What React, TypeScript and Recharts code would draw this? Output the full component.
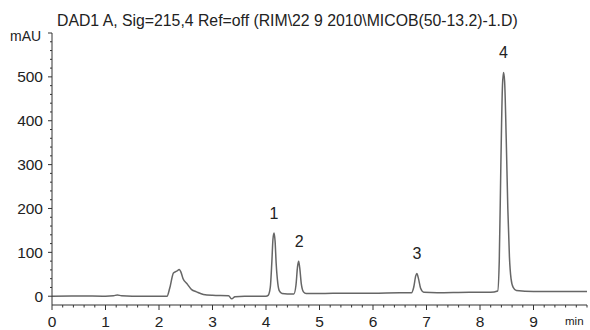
import { LineChart, Line, XAxis, YAxis, ReferenceDot } from 'recharts';

// retention time (min) and detector signal (mAU)
const times = [
  0, 0.5, 1.0, 1.15, 1.22, 1.3, 1.5, 2.0, 2.15,
  2.2, 2.27, 2.33, 2.38, 2.41, 2.45, 2.52, 2.61, 2.7, 2.83, 3.0, 3.3, 3.36, 3.42, 3.6, 4.0,
  4.04, 4.08, 4.11, 4.13, 4.15, 4.17, 4.19, 4.22, 4.25, 4.3, 4.4,
  4.52, 4.56, 4.59, 4.61, 4.63, 4.66, 4.7, 4.75, 5.0, 5.5, 6.0, 6.5,
  6.72, 6.76, 6.8, 6.82, 6.85, 6.89, 6.95, 7.2, 7.8, 8.2,
  8.33, 8.36, 8.39, 8.42, 8.44, 8.46, 8.49, 8.52, 8.55, 8.58, 8.62, 8.68, 9.0, 9.5, 10.0,
];
const signal = [
  0, 0.5, 0, 1, 3, 1, 0, 0, 0,
  18, 53, 57, 61, 55, 40, 29, 15, 10, 4, 2, 1, -6, -1, 0, 0,
  2, 20, 80, 130, 144, 125, 75, 30, 12, 6, 5,
  5, 25, 68, 80, 65, 28, 10, 6, 6, 7, 7, 8,
  8, 20, 47, 52, 40, 18, 9, 8, 9, 9,
  12, 80, 300, 480, 510, 490, 360, 200, 90, 40, 20, 13, 11, 11, 11,
];

const peakTimes = [4.15, 4.62, 6.82, 8.44];
const peakHeights = [144, 80, 52, 510];
const peakNames = ['1', '2', '3', '4'];

const xLabels = [0, 1, 2, 3, 4, 5, 6, 7, 8, 9];
const yLabels = [0, 100, 200, 300, 400, 500];

const xTicks = Array.from({ length: 51 }, (_, i) => Math.round(i * 2) / 10);
const yTicks = Array.from({ length: 31 }, (_, i) => i * 20);

const data = times.map((t, i) => ({ t, v: signal[i] }));

const font = 'Arial, "Liberation Sans", Helvetica, sans-serif';
const ink = '#333';

function XTick(props: any) {
  const { x, y, payload } = props;
  const v = payload.value;
  const major = xLabels.includes(v);
  return (
    <g>
      <line x1={x} x2={x} y1={y} y2={y + (major ? 5 : 2.5)} stroke={ink} strokeWidth={1} />
      {major && (
        <text x={x} y={y + 21.5} textAnchor="middle" fontSize={15.5} fontFamily={font} fill="#222">
          {v}
        </text>
      )}
    </g>
  );
}

function YTick(props: any) {
  const { x, y, payload } = props;
  const v = payload.value;
  const major = v % 100 === 0;
  return (
    <g>
      <line x1={x} x2={x - (major ? 4 : 2)} y1={y} y2={y} stroke={ink} strokeWidth={1} />
      {yLabels.includes(v) && (
        <text x={x - 9} y={y + 5.5} textAnchor="end" fontSize={15.5} fontFamily={font} fill="#222">
          {v}
        </text>
      )}
    </g>
  );
}

export default function App() {
  return (
    <div style={{ position: 'absolute', left: 0, top: 0, width: 590, height: 330, background: '#fff', fontFamily: font }}>
      <div style={{ position: 'absolute', left: 57, top: 12, fontSize: 15.8, lineHeight: '18px', color: '#222', whiteSpace: 'nowrap' }}>
        DAD1 A, Sig=215,4 Ref=off (RIM\22 9 2010\MICOB(50-13.2)-1.D)
      </div>
      <div style={{ position: 'absolute', left: 10, top: 29, fontSize: 14, lineHeight: '15px', color: '#222' }}>mAU</div>
      <div style={{ position: 'absolute', left: 565, top: 315, fontSize: 11.5, lineHeight: '12px', color: '#222' }}>min</div>
      <LineChart width={590} height={330} data={data} margin={{ top: 33, right: 3, bottom: 0, left: 0 }}>
        <XAxis
          type="number"
          dataKey="t"
          domain={[0, 10]}
          ticks={xTicks}
          interval={0}
          tickSize={0}
          tickMargin={0}
          tickLine={false}
          tick={<XTick />}
          height={25}
          stroke={ink}
          allowDataOverflow
        />
        <YAxis
          type="number"
          domain={[-20, 600]}
          ticks={yTicks}
          interval={0}
          tickSize={0}
          tickMargin={0}
          tickLine={false}
          tick={<YTick />}
          width={52}
          stroke={ink}
          allowDataOverflow
        />
        <Line
          type="monotone"
          dataKey="v"
          stroke="#666"
          strokeWidth={1.5}
          dot={false}
          isAnimationActive={false}
        />
        {peakTimes.map((t, i) => (
          <ReferenceDot
            key={peakNames[i]}
            x={t}
            y={peakHeights[i]}
            r={0}
            stroke="none"
            label={{ value: peakNames[i], position: 'top', offset: 14, fontSize: 16, fontFamily: font, fill: '#222' }}
          />
        ))}
      </LineChart>
    </div>
  );
}
